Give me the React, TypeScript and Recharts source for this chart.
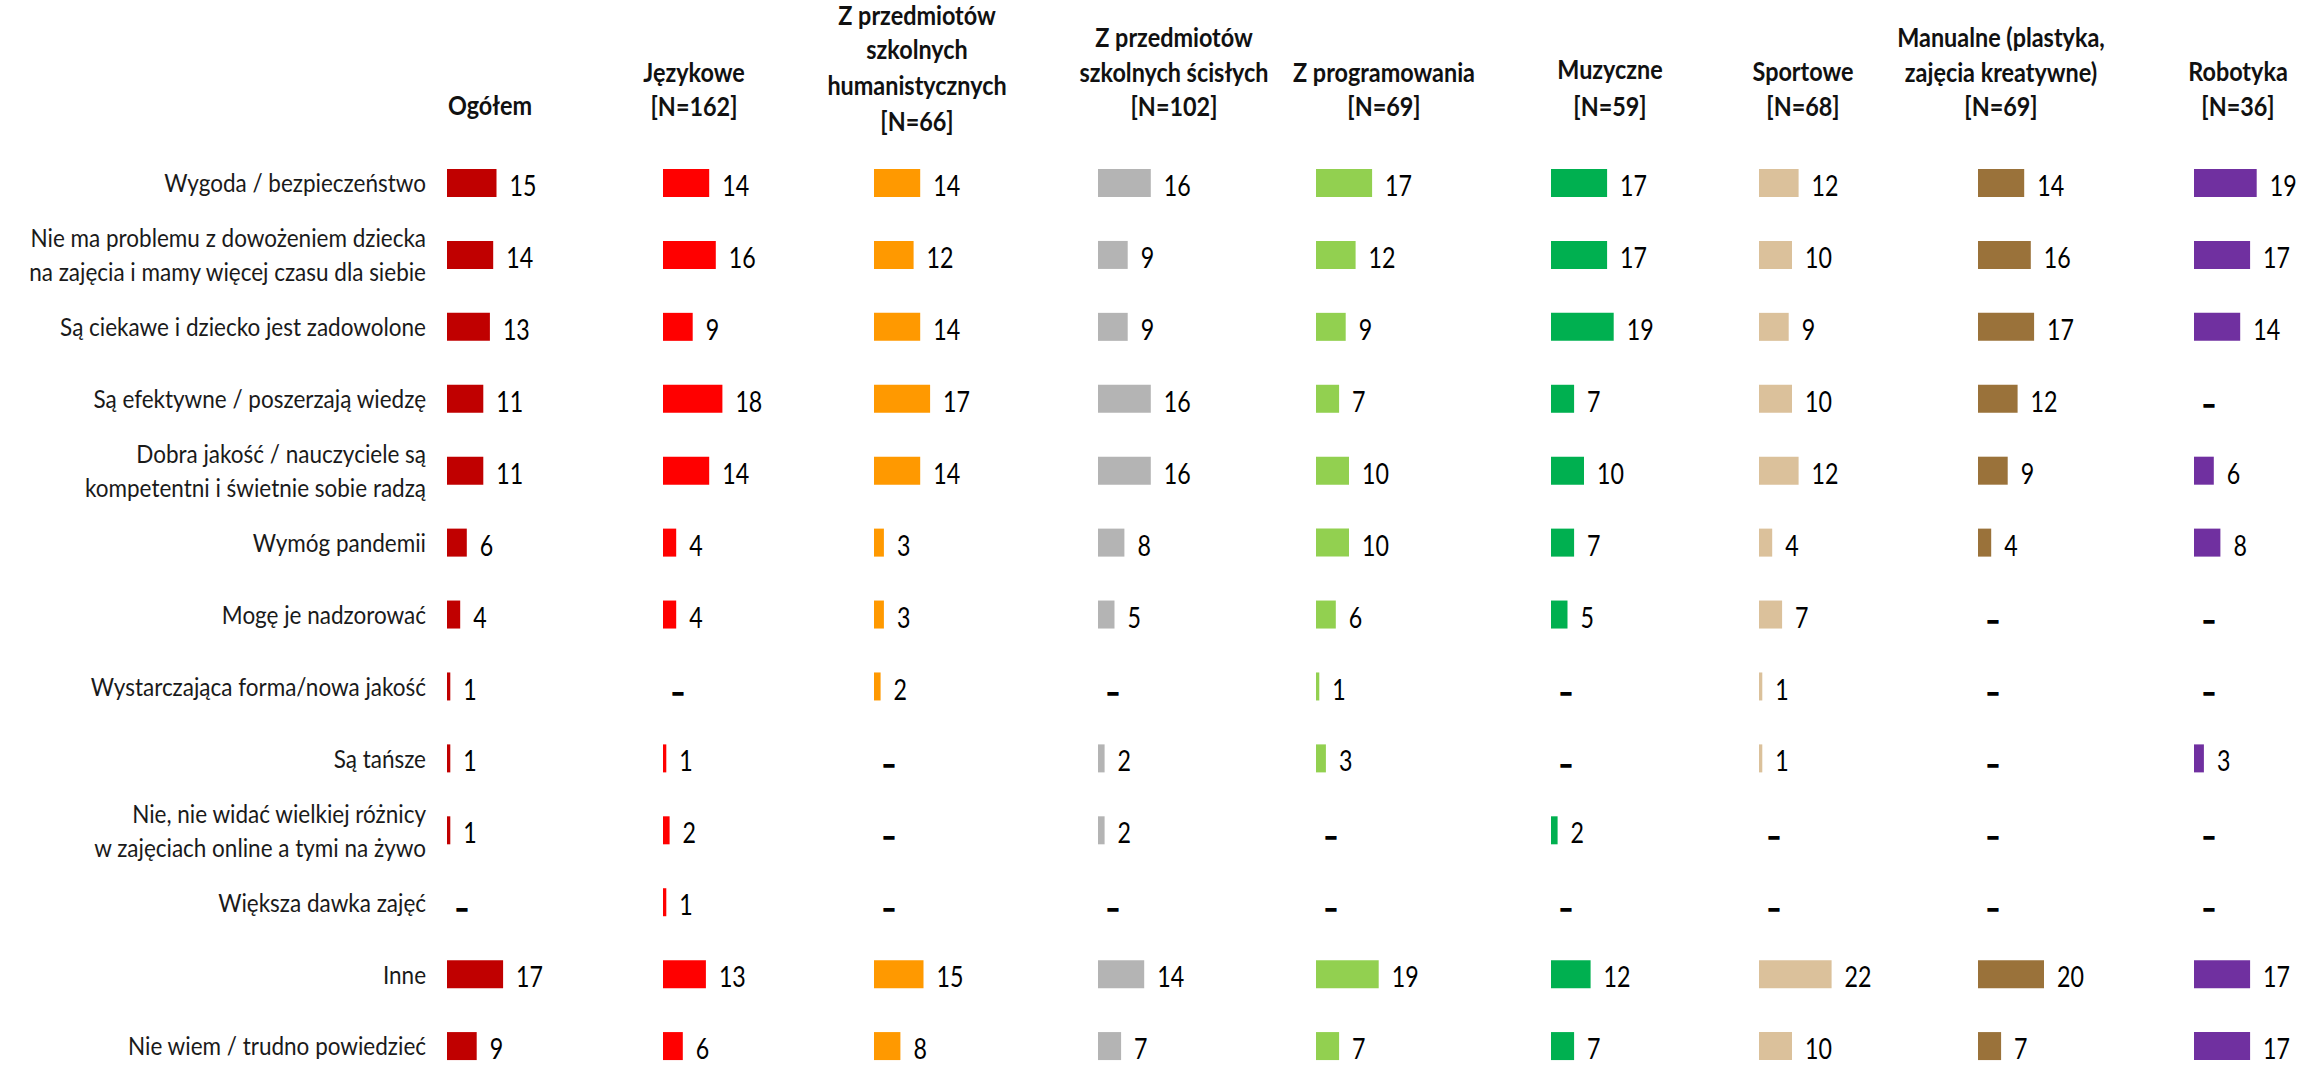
import React from "react";
import { BarChart, Bar, XAxis, YAxis, LabelList } from "recharts";

// Row labels (\n marks a line break in the original slide)
const categories = [
  "Wygoda / bezpieczeństwo",
  "Nie ma problemu z dowożeniem dziecka\nna zajęcia i mamy więcej czasu dla siebie",
  "Są ciekawe i dziecko jest zadowolone",
  "Są efektywne / poszerzają wiedzę",
  "Dobra jakość / nauczyciele są\nkompetentni i świetnie sobie radzą",
  "Wymóg pandemii",
  "Mogę je nadzorować",
  "Wystarczająca forma/nowa jakość",
  "Są tańsze",
  "Nie, nie widać wielkiej różnicy\nw zajęciach online a tymi na żywo",
  "Większa dawka zajęć",
  "Inne",
  "Nie wiem / trudno powiedzieć",
];

// Column headers
const headers = [
  ["Ogółem"],
  ["Językowe", "[N=162]"],
  ["Z przedmiotów", "szkolnych", "humanistycznych", "[N=66]"],
  ["Z przedmiotów", "szkolnych ścisłych", "[N=102]"],
  ["Z programowania", "[N=69]"],
  ["Muzyczne", "[N=59]"],
  ["Sportowe", "[N=68]"],
  ["Manualne (plastyka,", "zajęcia kreatywne)", "[N=69]"],
  ["Robotyka", "[N=36]"],
];

// Values in %, null = "–"
const ogolem = [15, 14, 13, 11, 11, 6, 4, 1, 1, 1, null, 17, 9];
const jezykowe = [14, 16, 9, 18, 14, 4, 4, null, 1, 2, 1, 13, 6];
const humanistyczne = [14, 12, 14, 17, 14, 3, 3, 2, null, null, null, 15, 8];
const scisle = [16, 9, 9, 16, 16, 8, 5, null, 2, 2, null, 14, 7];
const programowanie = [17, 12, 9, 7, 10, 10, 6, 1, 3, null, null, 19, 7];
const muzyczne = [17, 17, 19, 7, 10, 7, 5, null, null, 2, null, 12, 7];
const sportowe = [12, 10, 9, 10, 12, 4, 7, 1, 1, null, null, 22, 10];
const manualne = [14, 16, 17, 12, 9, 4, null, null, null, null, null, 20, 7];
const robotyka = [19, 17, 14, null, 6, 8, null, null, 3, null, null, 17, 17];

const series = [ogolem, jezykowe, humanistyczne, scisle, programowanie, muzyczne, sportowe, manualne, robotyka];
const colors = ["#C00000", "#FF0000", "#FF9900", "#B4B4B4", "#92D050", "#00B050", "#DBC19B", "#9A723A", "#7030A0"];

// layout
const colStart = [447, 663, 874, 1098, 1316, 1551, 1759, 1978, 2194];
const headerX = [490, 694, 917, 1174, 1384, 1610, 1803, 2001, 2238];
const headerY = [
  [105],
  [72, 106],
  [15, 49, 85, 121],
  [37, 72, 106],
  [72, 106],
  [69, 106],
  [71, 106],
  [37, 72, 106],
  [71, 106],
];
const PLOT_W = 198; // 60 units * 3.3px
const CHART_H = 1083;
const FONT = "Lato, 'Open Sans', sans-serif";

const RowTick = (props: any) => {
  const { y, payload } = props;
  const lines = String(payload.value).split("\n");
  const lh = 34;
  const y0 = y - ((lines.length - 1) * lh) / 2;
  return (
    <text transform={`translate(426 ${y0}) scale(0.9 1)`} textAnchor="end" fontFamily={FONT} fontSize={25} fill="#1a1a1a">
      {lines.map((l, i) => (
        <tspan key={i} x={0} y={i * lh} dominantBaseline="central">
          {l}
        </tspan>
      ))}
    </text>
  );
};

const getBox = (props: any) => props.viewBox ?? props;

const renderValue = (props: any) => {
  const { x, y, width, height } = getBox(props);
  if (!props.value) return null;
  return (
    <text
      transform={`translate(${x + width + 13} ${y + height / 2 + 2}) scale(0.8 1)`}
      dominantBaseline="central"
      fontFamily={FONT}
      fontSize={29}
      fill="#000"
    >
      {props.value}
    </text>
  );
};

const renderDash = (props: any) => {
  const { x, y, height } = getBox(props);
  if (!props.value) return null;
  return (
    <text
      x={x + 15}
      y={y + height / 2 + 5}
      textAnchor="middle"
      dominantBaseline="central"
      fontFamily={FONT}
      fontWeight={700}
      fontSize={24}
      fill="#000"
      stroke="#000"
      strokeWidth={1.4}
    >
      –
    </text>
  );
};

function Column({ idx }: { idx: number }) {
  const values = series[idx];
  const first = idx === 0;
  // v = bar value, d = invisible placeholder carrying the "–" for empty cells
  const data = categories.map((cat, i) => ({
    cat,
    v: values[i] ?? 0,
    d: values[i] == null ? 1 : 0,
  }));
  const yw = first ? colStart[0] : 0;

  return (
    <div style={{ position: "absolute", left: first ? 0 : colStart[idx], top: 0 }}>
      <BarChart
        layout="vertical"
        width={yw + PLOT_W}
        height={CHART_H}
        data={data}
        margin={{ top: 147, right: 0, bottom: 1, left: 0 }}
      >
        <XAxis type="number" domain={[0, 60]} hide />
        <YAxis
          type="category"
          dataKey="cat"
          width={yw}
          hide={!first}
          axisLine={false}
          tickLine={false}
          interval={0}
          tick={<RowTick />}
        />
        <Bar dataKey="v" stackId="s" fill={colors[idx]} barSize={28} isAnimationActive={false}>
          <LabelList dataKey="v" content={renderValue} />
        </Bar>
        <Bar dataKey="d" stackId="s" fill="#fff" fillOpacity={0} barSize={28} isAnimationActive={false}>
          <LabelList dataKey="d" content={renderDash} />
        </Bar>
      </BarChart>
    </div>
  );
}

export default function App() {
  return (
    <div
      style={{
        position: "fixed",
        left: 0,
        top: 0,
        width: 2316,
        height: 1067,
        background: "#fff",
        overflow: "hidden",
      }}
    >
      {series.map((_, i) => (
        <Column key={i} idx={i} />
      ))}
      <svg width={2316} height={140} style={{ position: "absolute", left: 0, top: 0 }}>
        {headers.map((lines, i) =>
          lines.map((l, j) => (
            <text
              key={`${i}-${j}`}
              transform={`translate(${headerX[i]} ${headerY[i][j]}) scale(0.9 1)`}
              textAnchor="middle"
              dominantBaseline="central"
              fontFamily={FONT}
              fontWeight={700}
              fontSize={26}
              fill="#111"
            >
              {l}
            </text>
          ))
        )}
      </svg>
    </div>
  );
}
